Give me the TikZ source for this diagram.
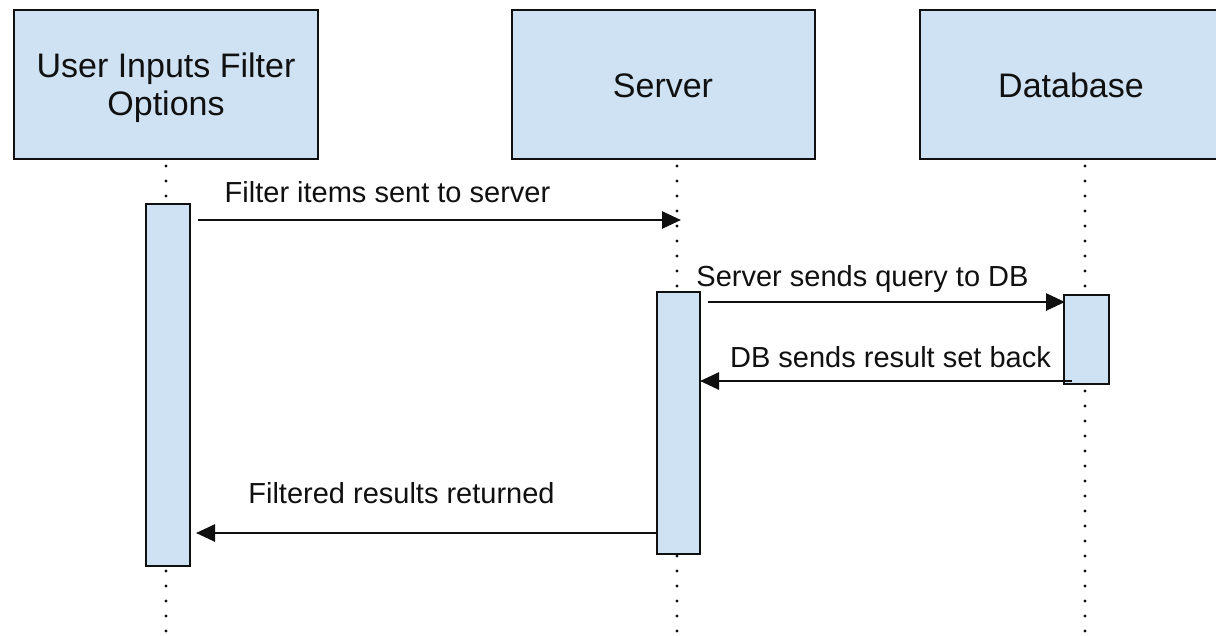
\documentclass[tikz,border=0pt]{standalone}
\usepackage{fontspec}
\setmainfont{Liberation Sans}
\usetikzlibrary{arrows.meta}

\definecolor{boxfill}{HTML}{CFE2F3}
\definecolor{ink}{HTML}{101010}

\tikzset{
  actor/.style={draw=ink, fill=boxfill, line width=2.8pt, inner sep=0pt},
  actlabel/.style={font=\fontsize{34}{38}\selectfont, text=ink, align=center, inner sep=0pt},
  activation/.style={draw=ink, fill=boxfill, line width=2.8pt},
  lifeline/.style={draw=ink, line width=3.2pt, line cap=round, dash pattern=on 0pt off 15pt},
  message/.style={draw=ink, line width=2.6pt, -{Triangle[length=19pt,width=17pt]}},
  msglabel/.style={font=\fontsize{29}{33}\selectfont, text=ink, anchor=base, inner sep=0pt},
}

\begin{document}
\begin{tikzpicture}[x=1pt, y=-1pt]
\useasboundingbox (0,0) rectangle (1216,635);

% participant header boxes
\draw[actor] (14,10) rectangle (318,159);
\draw[actor] (512,10) rectangle (815,159);
\draw[actor] (920,10) rectangle (1224,159);
\node[actlabel, anchor=base] (userlbl) at (166,77) {User Inputs Filter};
\node[actlabel, anchor=base] (userlbl2) at (166,115) {Options};
\node[actlabel, anchor=base] (serverlbl) at (663,97) {Server};
\node[actlabel, anchor=base] (dblbl) at (1071,97) {Database};

% lifelines
\coordinate (uTop) at (166,166);  \coordinate (uBot) at (166,640);
\coordinate (sTop) at (677,166);  \coordinate (sBot) at (677,640);
\coordinate (dTop) at (1085,166); \coordinate (dBot) at (1085,640);
\draw[lifeline] (uTop) -- (uBot);
\draw[lifeline] (sTop) -- (sBot);
\draw[lifeline] (dTop) -- (dBot);

% activation bars
\draw[activation] (146,204) rectangle (190,566);
\draw[activation] (657,292) rectangle (700,554);
\draw[activation] (1064,295) rectangle (1109,384);

% message end points
\coordinate (m1a) at (198,220);  \coordinate (m1b) at (681,220);
\coordinate (m2a) at (708,302);  \coordinate (m2b) at (1065,302);
\coordinate (m3a) at (1072,381); \coordinate (m3b) at (700,381);
\coordinate (m4a) at (657,533);  \coordinate (m4b) at (196,533);

% messages
\draw[message] (m1a) -- (m1b);
\draw[message] (m2a) -- (m2b);
\draw[message] (m3a) -- (m3b);
\draw[message] (m4a) -- (m4b);

\node[msglabel] (l1) at (387.5,202) {Filter items sent to server};
\node[msglabel] (l2) at (862.5,286) {Server sends query to DB};
\node[msglabel] (l3) at (890.5,367) {DB sends result set back};
\node[msglabel] (l4) at (401.5,503) {Filtered results returned};
\end{tikzpicture}
\end{document}
